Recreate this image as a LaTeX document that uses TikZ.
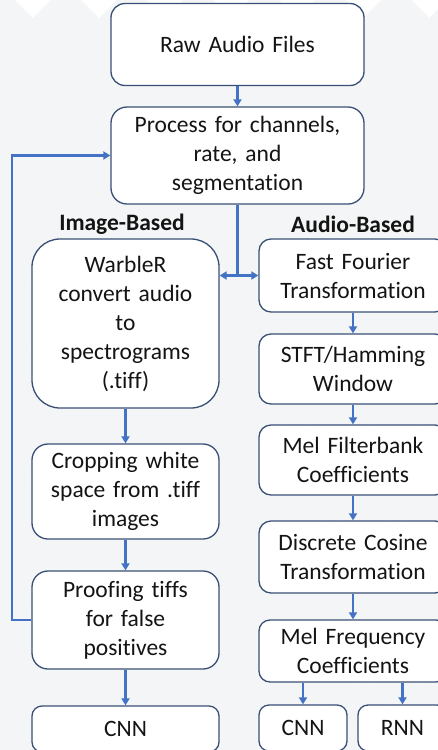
\documentclass[tikz,border=0pt]{standalone}
\usepackage{fontspec}
\setmainfont[Ligatures=NoCommon]{Carlito}
\usetikzlibrary{arrows.meta}
\definecolor{boxc}{HTML}{3A4F75}
\definecolor{arrc}{HTML}{4472C4}
\definecolor{txtc}{HTML}{141414}
\definecolor{bgd}{HTML}{F4F5F6}
\begin{document}
\begin{tikzpicture}[x=1pt,y=-1pt,
  box/.style={draw=boxc, fill=white, line width=1.3pt, align=center, text=txtc,
    font=\fontsize{23.5}{29}\selectfont, inner sep=0pt, text width=#1},
  box/.default=180pt,
  lab/.style={text=txtc, font=\fontsize{23.5}{29}\selectfont\bfseries},
  arr/.style={draw=arrc, line width=2.6pt, -{Triangle[length=7pt,width=8pt]}},
  barr/.style={draw=arrc, line width=2.6pt, {Triangle[length=7pt,width=8pt]}-{Triangle[length=7pt,width=8pt]}},
  ln/.style={draw=arrc, line width=2.6pt}
]
\useasboundingbox (0,0) rectangle (438,750);
\clip (0,0) rectangle (438,750);
\fill[white] (0,0) rectangle (438,750);
\foreach \j in {0,...,23}{
  \foreach \i in {0,...,7}{
    \pgfmathsetmacro\cx{66*\i + 33*mod(\j,2)}
    \pgfmathsetmacro\cy{18+33*\j-33}
    \fill[bgd] (\cx,\cy) -- ++(33,33) -- ++(-33,33) -- ++(-33,-33) -- cycle;
  }
}
% nodes
\node[box, minimum width=253pt, minimum height=82pt, rounded corners=14pt] (raw) at (237.5,44.5) {Raw Audio Files};
\node[box=240pt, minimum width=253pt, minimum height=97pt, rounded corners=16pt] (proc) at (237.5,155.5) {Process for channels,\\ rate, and\\ segmentation};
\node[lab] (ib) at (122,224) {Image-Based};
\node[lab] (ab) at (353,224) {Audio-Based};
\node[box, minimum width=187pt, minimum height=169pt, rounded corners=28pt] (warb) at (125.5,323.5) {WarbleR\\ convert audio\\ to\\ spectrograms\\ (.tiff)};
\node[box, minimum width=187pt, minimum height=95pt, rounded corners=16pt] (crop) at (125.5,491.5) {Cropping white\\ space from .tiff\\ images};
\node[box, minimum width=187pt, minimum height=98pt, rounded corners=16pt] (proof) at (125.5,620) {Proofing tiffs\\ for false\\ positives};
\node[box, minimum width=187pt, minimum height=46pt, rounded corners=10pt] (cnna) at (125.5,729) {CNN};
\node[box, minimum width=188pt, minimum height=73pt, rounded corners=12pt] (fft) at (353,275.5) {Fast Fourier\\ Transformation};
\node[box, minimum width=188pt, minimum height=70pt, rounded corners=12pt] (stft) at (353,369) {STFT/Hamming\\ Window};
\node[box, minimum width=188pt, minimum height=70pt, rounded corners=12pt] (melf) at (353,460) {Mel Filterbank\\ Coefficients};
\node[box, minimum width=188pt, minimum height=72pt, rounded corners=12pt] (dct) at (353,557) {Discrete Cosine\\ Transformation};
\node[box, minimum width=188pt, minimum height=62pt, rounded corners=11pt] (mfcc) at (353,651) {Mel Frequency\\ Coefficients};
\node[box=80pt, minimum width=88pt, minimum height=46pt, rounded corners=10pt] (cnnb) at (303,728) {CNN};
\node[box=80pt, minimum width=89pt, minimum height=46pt, rounded corners=10pt] (rnn) at (402.5,728) {RNN};
% connectors
\draw[arr] (raw.south) -- (proc.north);
\coordinate (jn) at (proc.south |- fft.west);
\draw[ln] (proc.south) -- (jn);
\draw[barr] (warb.east |- jn) -- (fft.west |- jn);
\coordinate (fb1) at (12,620);
\coordinate (fb2) at (12,155.5);
\draw[arr] (proof.west) -- (fb1) -- (fb2) -- (proc.west);
\draw[arr] (warb.south) -- (crop.north);
\draw[arr] (crop.south) -- (proof.north);
\draw[arr] (proof.south) -- (cnna.north);
\draw[arr] (fft.south) -- (stft.north);
\draw[arr] (stft.south) -- (melf.north);
\draw[arr] (melf.south) -- (dct.north);
\draw[arr] (dct.south) -- (mfcc.north);
\draw[arr] (cnnb.north |- mfcc.south) -- (cnnb.north);
\draw[arr] (rnn.north |- mfcc.south) -- (rnn.north);
\end{tikzpicture}
\end{document}
